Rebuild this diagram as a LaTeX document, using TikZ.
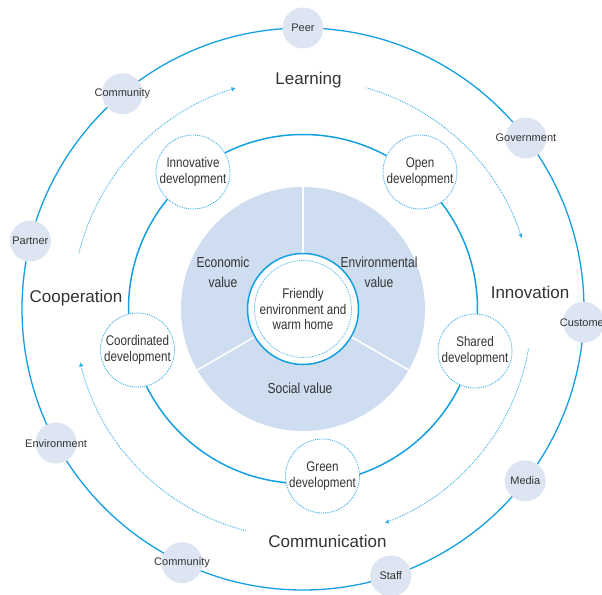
\documentclass[tikz,border=0pt]{standalone}
\usepackage{fontspec}
\setmainfont{Liberation Sans}
\newfontfamily\narrowfont[FakeStretch=0.83]{Liberation Sans}
\usetikzlibrary{arrows.meta}
\definecolor{ringblue}{HTML}{139FE0}
\definecolor{dotblue}{HTML}{3AAEE6}
\definecolor{partnerfill}{HTML}{DEE5F2}
\definecolor{piefill}{HTML}{CEDDEF}
\definecolor{textgray}{HTML}{333333}
\tikzstyle{ring}=[draw=ringblue, line width=1.3pt]
\tikzstyle{partner}=[circle, fill=partnerfill, minimum size=41pt, inner sep=0pt, text=textgray, font=\fontsize{11}{13}\selectfont]
\tikzstyle{devnode}=[circle, draw=dotblue, densely dotted, line width=0.9pt, fill=white, minimum size=74pt, inner sep=0pt, align=center, text=textgray, font=\narrowfont\fontsize{14}{15.5}\selectfont]
\tikzstyle{flow}=[dotblue, densely dotted, line width=0.9pt, -{Triangle[length=4pt,width=4pt]}]
\tikzstyle{stage}=[anchor=base, text=textgray, font=\fontsize{17}{20}\selectfont]
\tikzstyle{valuelabel}=[align=center, text=textgray, font=\narrowfont\fontsize{14.5}{20}\selectfont]
\newcommand{\wide}[1]{\makebox[0pt]{#1}}
\newcommand{\drawpartners}{
  \node[partner] (peer) at (90:281pt) {\wide{Peer}};
  \node[partner] (commtop) at (130:281pt) {\wide{Community}};
  \node[partner] (gov) at (37.5:281pt) {\wide{Government}};
  \node[partner] (partner) at (166:281pt) {\wide{Partner}};
  \node[partner] (customer) at (-2.7:281pt) {\wide{Customer}};
  \node[partner] (environ) at (208.5:281pt) {\wide{Environment}};
  \node[partner] (commbot) at (244.5:281pt) {\wide{Community}};
  \node[partner] (staff) at (288.2:281pt) {\wide{Staff}};
  \node[partner] (media) at (-37.7:281pt) {\wide{Media}};
}

\begin{document}
\begin{tikzpicture}[x=1pt, y=1pt]
    \useasboundingbox (-303,-285) rectangle (299,309);
    \coordinate (c) at (0,0);
    % outer ring of partners
    \draw[ring] (c) circle[radius=281pt];
    \drawpartners{}
    % development ring
    \draw[ring, line width=1.5pt] (c) circle[radius=174.5pt];
    \node[devnode] (innov) at (-110,137) {Innovative\\development};
    \node[devnode] (open) at (117,137) {Open\\development};
    \node[devnode] (shared) at (172,-42) {Shared\\development};
    \node[devnode] (green) at (19.5,-167) {Green\\development};
    \node[devnode] (coord) at (-165.5,-41) {Coordinated\\development};
    % values
    \fill[piefill] (c) circle[radius=122pt];
    \foreach \a in {90,210,330}
      \draw[white, line width=1.5pt] (c) -- (\a:122pt);
    \node[circle, draw=ringblue, line width=1.5pt, fill=white, minimum size=111pt, inner sep=0pt, align=center, text=textgray, font=\narrowfont\fontsize{14}{15.8}\selectfont] (core) at (c) {Friendly\\environment and\\warm home};
    \draw[dotblue, densely dotted, line width=0.8pt] (core.center) circle[radius=48.5pt];
    \node[valuelabel] (econ) at (-80,37) {Economic\\value};
    \node[valuelabel] (envval) at (76,37) {Environmental\\value};
    \node[valuelabel] (social) at (-3,-79) {Social value};
    % cycle
    \draw[flow] (166:231pt) arc[start angle=166, end angle=107, radius=231pt];
    \draw[flow] (74:230pt) arc[start angle=74, end angle=18, radius=230pt];
    \draw[flow] (-10:229pt) arc[start angle=-10, end angle=-69, radius=229pt];
    \draw[flow] (255.5:229pt) arc[start angle=255.5, end angle=193.5, radius=229pt];
    \node[stage] (learning) at (5.5,224) {Learning};
    \node[stage] (innovation) at (227,10.7) {Innovation};
    \node[stage] (communication) at (24.5,-238) {Communication};
    \node[stage] (cooperation) at (-227,6) {Cooperation};
\end{tikzpicture}
\end{document}
